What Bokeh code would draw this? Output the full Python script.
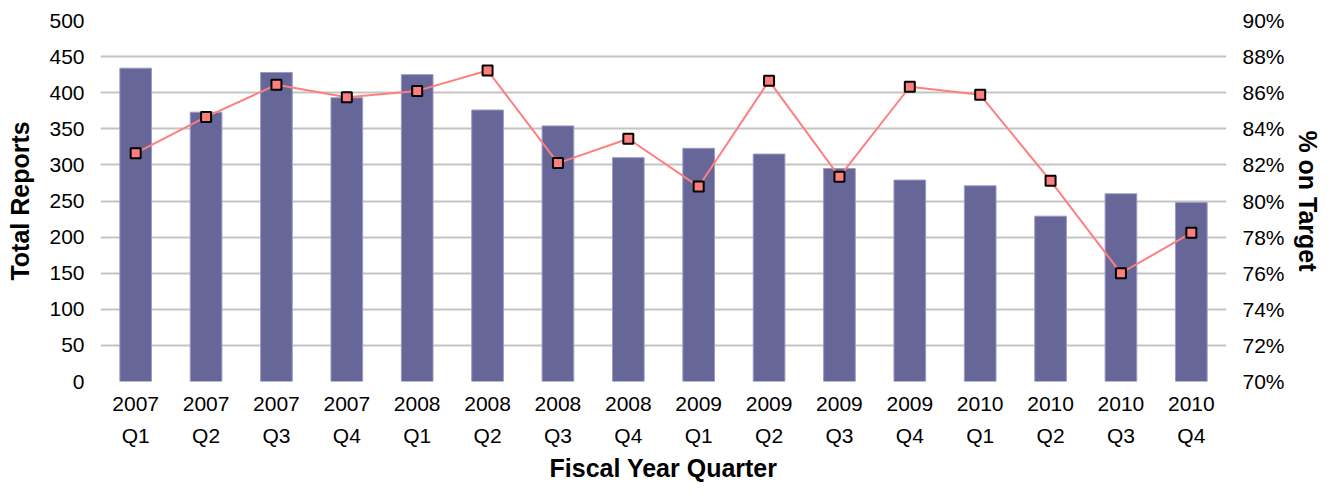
from bokeh.plotting import figure
from bokeh.models import Range1d, LinearAxis, SingleIntervalTicker, PrintfTickFormatter, ColumnDataSource
from bokeh.embed import file_html
from bokeh.resources import INLINE

quarters = ["2007\nQ1", "2007\nQ2", "2007\nQ3", "2007\nQ4",
            "2008\nQ1", "2008\nQ2", "2008\nQ3", "2008\nQ4",
            "2009\nQ1", "2009\nQ2", "2009\nQ3", "2009\nQ4",
            "2010\nQ1", "2010\nQ2", "2010\nQ3", "2010\nQ4"]
total_reports = [434, 373, 428, 393, 425, 376, 354, 310,
                 323, 315, 295, 279, 271, 229, 260, 248]
pct_on_target = [82.65, 84.66, 86.44, 85.75, 86.10, 87.23, 82.10, 83.45,
                 80.80, 86.66, 81.34, 86.33, 85.88, 81.12, 76.00, 78.24]

src = ColumnDataSource(dict(q=quarters, total=total_reports, pct=pct_on_target))

FONT = "Liberation Sans"

p = figure(x_range=quarters, y_range=Range1d(0, 500), width=1324, height=484,
           output_backend="svg", toolbar_location=None,
           min_border_left=100, min_border_right=96, min_border_top=20, min_border_bottom=103)
p.outline_line_color = None
p.extra_y_ranges = {"pct": Range1d(70, 90)}

p.vbar(x="q", top="total", width=0.45, source=src,
       fill_color="#666699", line_color="#9a9ac4", line_width=1)
p.line(x="q", y="pct", source=src, y_range_name="pct", line_color="#FF7F7F", line_width=2)
p.scatter(x="q", y="pct", source=src, y_range_name="pct", marker="square", size=10,
          fill_color="#FF7F7F", line_color="black", line_width=2)

p.xgrid.grid_line_color = None
p.ygrid.grid_line_color = "#c4c4c4"
p.ygrid.grid_line_width = 2
p.ygrid.level = "underlay"

yl = p.yaxis[0]
yl.ticker = SingleIntervalTicker(interval=50)
yl.axis_label = "Total Reports"

yr = LinearAxis(y_range_name="pct", ticker=SingleIntervalTicker(interval=2),
                formatter=PrintfTickFormatter(format="%d%%"), axis_label="% on Target")
p.add_layout(yr, "right")

p.xaxis.axis_label = "Fiscal Year Quarter"

for ax in [p.xaxis[0], yl, yr]:
    ax.axis_line_color = None
    ax.major_tick_line_color = None
    ax.minor_tick_line_color = None
    ax.major_tick_out = 0
    ax.major_tick_in = 0
    ax.minor_tick_out = 0
    ax.minor_tick_in = 0
    ax.major_label_text_font = FONT
    ax.major_label_text_font_size = "21px"
    ax.major_label_text_color = "black"
    ax.axis_label_text_font = FONT
    ax.axis_label_text_font_size = "25px"
    ax.axis_label_text_font_style = "bold"
    ax.axis_label_text_color = "black"

p.xaxis[0].major_label_text_line_height = 1.4
p.xaxis[0].major_label_standoff = 10
p.xaxis[0].axis_label_standoff = 4
yl.major_label_standoff = 16
yl.axis_label_standoff = 12
yr.major_label_standoff = 16
yr.axis_label_standoff = 6

open("out.html", "w").write(file_html(p, INLINE))
